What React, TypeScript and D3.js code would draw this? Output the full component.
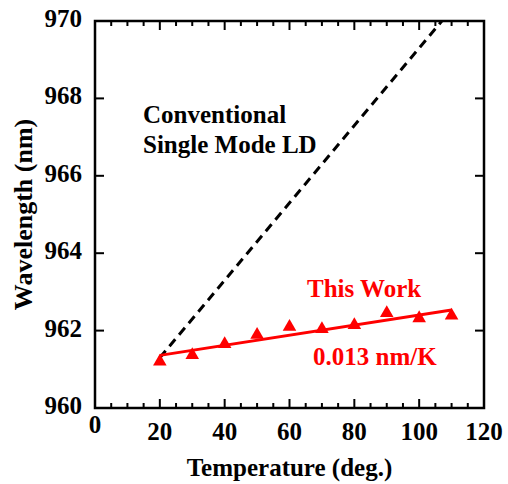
import React from "react";
import * as d3 from "d3";

// Measured emission wavelength vs. temperature
const temps = [20, 30, 40, 50, 60, 70, 80, 90, 100, 110];
const wavelengths = [961.2, 961.37, 961.65, 961.89, 962.1, 962.04, 962.14, 962.45, 962.32, 962.39];

// Linear fit of this work
const fitSlope = 0.013; // nm/K
const fitIntercept = 961.36; // value at 20 deg.
const fitRange = [20, 110];

// Conventional single-mode LD reference trend
const convSlope = 0.1; // nm/K
const convStart = [20, 961.3];
const convEndX = 110;

const xTicks = [0, 20, 40, 60, 80, 100, 120];
const yTicks = [960, 962, 964, 966, 968, 970];

const W = 508;
const H = 484;
const margin = { left: 95, right: 24, top: 21, bottom: 76 };
const FONT = "Liberation Serif";
const FS = 25;

export default function App() {
  const x = d3.scaleLinear().domain([0, 120]).range([margin.left, W - margin.right]);
  const y = d3.scaleLinear().domain([960, 970]).range([H - margin.bottom, margin.top]);
  const [x0, x1] = x.range();
  const [y0, y1] = y.range();

  const fitLine = d3.line<number>()
    .x((t) => x(t))
    .y((t) => y(fitIntercept + fitSlope * (t - 20)));

  const convLine = d3.line<number>()
    .x((t) => x(t))
    .y((t) => y(convStart[1] + convSlope * (t - convStart[0])));

  const tri = d3.symbol().type(d3.symbolTriangle).size(80)();
  const minorX = d3.range(0, 121, 5);
  const majorLen = 9;
  const minorLen = 5;

  return (
    <svg width={W} height={H} style={{ position: "absolute", left: 0, top: 0, background: "#fff" }}>
      <defs>
        <clipPath id="plot">
          <rect x={x0} y={y1} width={x1 - x0} height={y0 - y1} />
        </clipPath>
      </defs>

      {/* bottom and top ticks */}
      {minorX.map((t) => {
        const len = t % 20 === 0 ? majorLen : minorLen;
        return (
          <g key={"xt" + t} stroke="#000" strokeWidth={2}>
            <line x1={x(t)} x2={x(t)} y1={y0} y2={y0 - len} />
            <line x1={x(t)} x2={x(t)} y1={y1} y2={y1 + len} />
          </g>
        );
      })}
      {/* left and right ticks */}
      {yTicks.map((v) => (
        <g key={"yt" + v} stroke="#000" strokeWidth={2}>
          <line x1={x0} x2={x0 + majorLen} y1={y(v)} y2={y(v)} />
          <line x1={x1} x2={x1 - majorLen} y1={y(v)} y2={y(v)} />
        </g>
      ))}

      {/* frame */}
      <rect x={x0} y={y1} width={x1 - x0} height={y0 - y1} fill="none" stroke="#000" strokeWidth={2.5} />

      {/* tick labels */}
      {xTicks.map((t) => (
        <text key={"xl" + t} x={x(t)} y={t === 0 ? y0 + 25 : y0 + 32} textAnchor="middle" fontFamily={FONT}
          fontWeight="bold" fontSize={FS} fill="#000">{t}</text>
      ))}
      {yTicks.map((v) => (
        <text key={"yl" + v} x={x0 - 13} y={y(v) + 6} textAnchor="end" fontFamily={FONT}
          fontWeight="bold" fontSize={FS} fill="#000">{v}</text>
      ))}

      {/* axis titles */}
      <text x={(x0 + x1) / 2} y={476} textAnchor="middle" fontFamily={FONT} fontWeight="bold"
        fontSize={FS} fill="#000">Temperature (deg.)</text>
      <text transform={`translate(32, ${(y0 + y1) / 2}) rotate(-90)`} textAnchor="middle"
        fontFamily={FONT} fontWeight="bold" fontSize={26} fill="#000">Wavelength (nm)</text>

      <g clipPath="url(#plot)">
        <path d={convLine([convStart[0], convEndX]) ?? ""} fill="none" stroke="#000"
          strokeWidth={3} strokeDasharray="9,6" />
        <path d={fitLine(fitRange) ?? ""} fill="none" stroke="#ff0000" strokeWidth={3} />
        {temps.map((t, i) => (
          <path key={"p" + t} d={tri ?? ""} transform={`translate(${x(t)},${y(wavelengths[i])})`}
            fill="#ff0000" />
        ))}
      </g>

      {/* annotations */}
      <text x={143} y={123} fontFamily={FONT} fontWeight="bold" fontSize={FS} fill="#000">Conventional</text>
      <text x={143} y={153} fontFamily={FONT} fontWeight="bold" fontSize={FS} fill="#000">Single Mode LD</text>
      <text x={307} y={297} fontFamily={FONT} fontWeight="bold" fontSize={FS} fill="#ff0000">This Work</text>
      <text x={313} y={365} fontFamily={FONT} fontWeight="bold" fontSize={FS} fill="#ff0000">0.013 nm/K</text>
    </svg>
  );
}
